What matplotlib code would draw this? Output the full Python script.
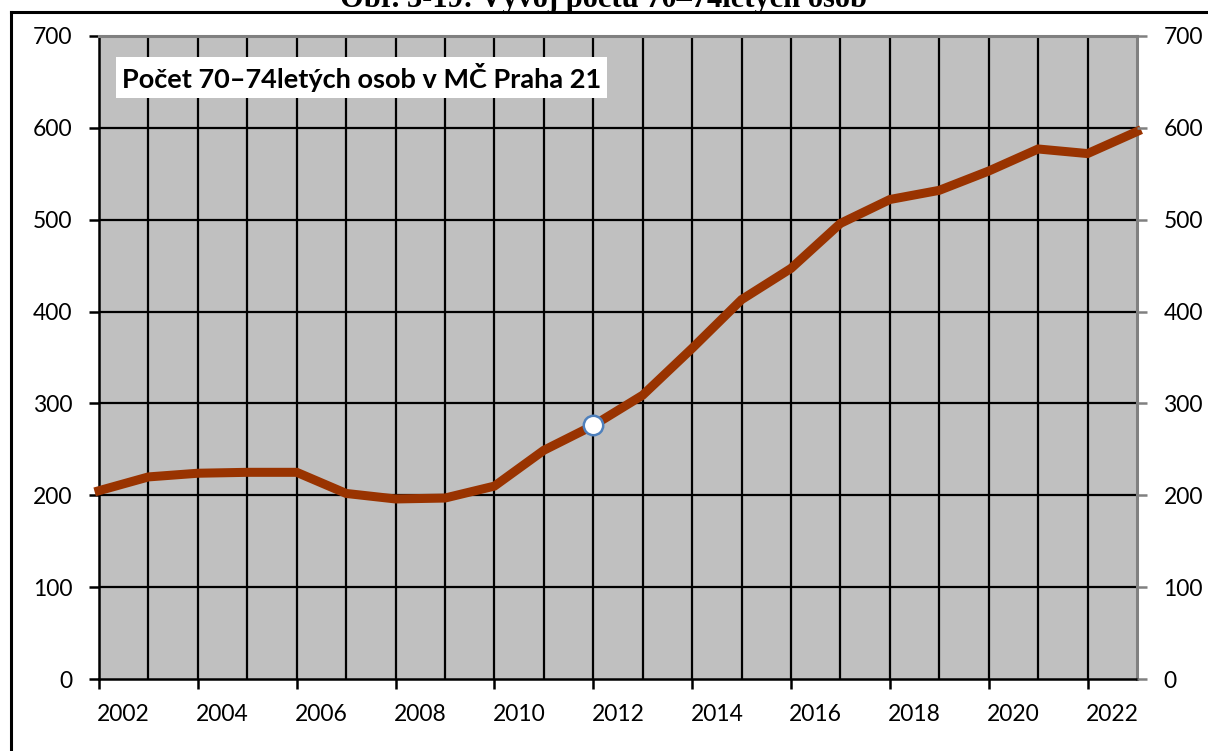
import matplotlib
matplotlib.use("Agg")
import matplotlib.pyplot as plt
from matplotlib.transforms import ScaledTranslation
from matplotlib.lines import Line2D

years = list(range(2002, 2024))
values = [205, 220, 224, 225, 225, 202, 196, 197, 210, 249, 276, 309,
          360, 413, 447, 496, 522, 532, 553, 577, 572, 596]
yticks = [0, 100, 200, 300, 400, 500, 600, 700]
tick_labels = [str(y) for y in years[::2]]
highlight_index = years.index(2012)
chart_title = "Obr. 3-19: Vývoj počtu 70–74letých osob"
box_text = "Počet 70–74letých osob v MČ Praha 21"

W, H = 1208, 751
fig = plt.figure(figsize=(W / 100, H / 100), dpi=100)
plt.rcParams['font.family'] = ['Lato', 'DejaVu Sans']

L, R, T, B = 99, 1137, 36, 679
ax = fig.add_axes([L / W, 1 - B / H, (R - L) / W, (B - T) / H])
ax.set_facecolor('#C0C0C0')

n = len(years)
xs = list(range(n))
ax.set_xlim(0, n - 1)
ax.set_ylim(yticks[0], yticks[-1])

# grid lines
ax.vlines(xs[1:-1], yticks[0], yticks[-1], colors='black', lw=1.6, zorder=1)
ax.hlines(yticks[1:-1], 0, n - 1, colors='black', lw=1.6, zorder=1)

ax.plot(xs, values, color='#993300', lw=6.5, solid_joinstyle='miter',
        zorder=3, clip_on=False)
ax.plot([xs[highlight_index]], [values[highlight_index]], 'o', ms=14,
        mfc='white', mec='#4F81BD', mew=1.8, zorder=4)

# spines
ax.spines['left'].set_color('black')
ax.spines['left'].set_linewidth(1.8)
ax.spines['bottom'].set_color('black')
ax.spines['bottom'].set_linewidth(1.8)
ax.spines['top'].set_color('#808080')
ax.spines['top'].set_linewidth(2.2)
ax.spines['right'].set_color('#808080')
ax.spines['right'].set_linewidth(2.2)

ax.set_yticks(yticks)
ax.set_yticklabels([str(v) for v in yticks])
ax.tick_params(axis='y', direction='out', length=7, width=1.8,
               color='black', labelsize=16.5, pad=12)
ax.set_xticks(xs[::2])
ax.set_xticklabels(tick_labels)
ax.tick_params(axis='x', direction='out', length=7, width=1.8,
               color='black', labelsize=16.5, pad=11)
offset = ScaledTranslation(0.247, 0, fig.dpi_scale_trans)
for lab in ax.get_xticklabels():
    lab.set_transform(lab.get_transform() + offset)

ax2 = ax.twinx()
ax2.set_ylim(yticks[0], yticks[-1])
ax2.set_yticks(yticks)
ax2.set_yticklabels([str(v) for v in yticks])
ax2.tick_params(axis='y', direction='out', length=7, width=1.8,
                color='#808080', labelsize=16.5, pad=12)
for s in ax2.spines.values():
    s.set_visible(False)

# text box
ax.text(0.0222, 0.958, box_text, transform=ax.transAxes, fontsize=19.5,
        fontweight='bold', va='top', ha='left', zorder=5,
        bbox=dict(boxstyle='square,pad=0.22', fc='white', ec='none'))

# figure title (cut off at the top)
fig.text(0.5, 1 - 7 / H, chart_title, ha='center', va='baseline',
         fontsize=22, fontweight='bold', family=['Liberation Serif'])

# outer border
fig.add_artist(Line2D([11 / W, 11 / W], [0, 1 - 12 / H], color='black',
                      lw=2.2, transform=fig.transFigure))
fig.add_artist(Line2D([11 / W, 1], [1 - 12 / H, 1 - 12 / H], color='black',
                      lw=2.2, transform=fig.transFigure))

fig.savefig('out.png', dpi=100)
